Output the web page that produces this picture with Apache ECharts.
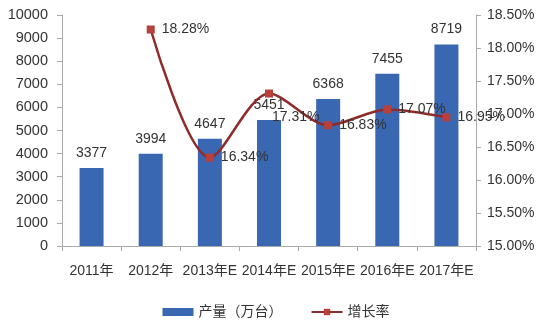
<!DOCTYPE html>
<html><head><meta charset="utf-8">
<script src="https://cdn.jsdelivr.net/npm/echarts@6/dist/echarts.min.js"></script>
<style>html,body{margin:0;padding:0;background:#fff}#c{width:552px;height:327px}</style>
</head><body><div id="c"></div>
<script>
const categories = ['2011年','2012年','2013年E','2014年E','2015年E','2016年E','2017年E'];
const output = [3377, 3994, 4647, 5451, 6368, 7455, 8719];
const growth = [null, 18.28, 16.34, 17.31, 16.83, 17.07, 16.95];
const leftTicks = [0, 10000, 1000];
const rightTicks = [15, 18.5, 0.5];

const font = '"Liberation Sans","Noto Sans CJK SC",sans-serif';
const growthData = growth.map((v, i) => i === 3 ? {value: v, label: {offset: [-8, 24]}} : v);
const chart = echarts.init(document.getElementById('c'));
chart.setOption({
  animation: false,
  textStyle: {fontFamily: font},
  grid: {left: 62, right: 76, top: 15, bottom: 81},
  legend: {
    bottom: 3, left: 'center', itemGap: 28,
    textStyle: {fontSize: 14, color: '#333', fontFamily: font},
    data: [
      {name: '产量（万台）', icon: 'rect', itemStyle: {color: '#3a67b2'}},
      {name: '增长率'}
    ],
    itemWidth: 31, itemHeight: 8
  },
  xAxis: {
    type: 'category', data: categories,
    axisLine: {lineStyle: {color: '#aaa'}},
    axisTick: {show: true, alignWithLabel: false, lineStyle: {color: '#aaa'}},
    axisLabel: {interval: 0, color: '#333', fontSize: 14, margin: 18, fontFamily: font}
  },
  yAxis: [
    {type: 'value', min: leftTicks[0], max: leftTicks[1], interval: leftTicks[2],
     splitLine: {show: false},
     axisLine: {show: true, lineStyle: {color: '#aaa'}},
     axisTick: {show: true, lineStyle: {color: '#aaa'}},
     axisLabel: {color: '#333', fontSize: 14.5, margin: 14, fontFamily: font, formatter: v => String(v)}},
    {type: 'value', min: rightTicks[0], max: rightTicks[1], interval: rightTicks[2],
     position: 'right', splitLine: {show: false},
     axisLine: {show: true, lineStyle: {color: '#aaa'}},
     axisTick: {show: true, lineStyle: {color: '#aaa'}},
     axisLabel: {color: '#333', fontSize: 14, margin: 11, fontFamily: font,
       formatter: v => v.toFixed(2) + '%'}}
  ],
  series: [
    {name: '产量（万台）', type: 'bar', data: output, barWidth: 24,
     itemStyle: {color: '#3a67b2'},
     label: {show: true, position: 'top', distance: 8, color: '#333', fontSize: 14, fontFamily: font}},
    {name: '增长率', type: 'line', yAxisIndex: 1, data: growthData, smooth: 0.3,
     lineStyle: {color: '#8e2b2b', width: 2.5},
     itemStyle: {color: '#b8403c'},
     symbol: 'rect', symbolSize: 8,
     label: {show: true, position: 'right', distance: 7, color: '#333', fontSize: 14, fontFamily: font,
       formatter: p => p.value.toFixed(2) + '%'}}
  ]
});
</script></body></html>
